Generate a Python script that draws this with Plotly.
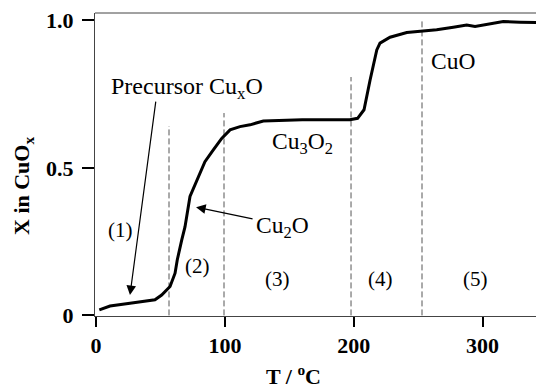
import plotly.graph_objects as go

# ---- data ----
temperature_C = [2.5, 10.8, 26.3, 45.7, 50.9, 57.4, 61.3, 63.0, 66.5, 69.0, 72.9, 76.8,
                 82.0, 84.5, 91.0, 97.5, 104.0, 111.7, 119.5, 129.8, 160.0, 197.0, 203.0,
                 206.2, 208.0, 212.7, 215.2, 217.9, 220.4, 228.2, 241.2, 252.8, 264.4,
                 277.3, 287.7, 294.2, 303.3, 316.1, 329.1, 341.5]
x_in_CuOx = [0.019, 0.032, 0.041, 0.053, 0.069, 0.098, 0.143, 0.188, 0.256, 0.300, 0.403, 0.442,
             0.499, 0.521, 0.561, 0.600, 0.629, 0.640, 0.646, 0.659, 0.663, 0.663, 0.668,
             0.685, 0.697, 0.798, 0.843, 0.900, 0.923, 0.943, 0.959, 0.964, 0.968,
             0.977, 0.984, 0.979, 0.987, 0.996, 0.994, 0.993]

boundary_T = [56.6, 99.3, 197.9, 253.0]
boundary_top = [0.642, 0.686, 0.808, 1.005]

region_labels = ["(1)", "(2)", "(3)", "(4)", "(5)"]
region_T = [18.6, 79.1, 140.8, 220.8, 294.6]
region_X = [0.29, 0.169, 0.125, 0.125, 0.125]

phase_labels = ["Cu<sub>3</sub>O<sub>2</sub>", "CuO"]
phase_T = [159.9, 277.1]
phase_X = [0.585, 0.863]

x_tickvals = [0, 100, 200, 300]
x_ticktext = ["<b>0</b>", "<b>100</b>", "<b>200</b>", "<b>300</b>"]
y_tickvals = [0, 0.5, 1.0]
y_ticktext = ["<b>0</b>", "<b>0.5</b>", "<b>1.0</b>"]

SERIF = "Liberation Serif"

fig = go.Figure()

# dashed region boundaries
bx, by = [], []
for t, top in zip(boundary_T, boundary_top):
    bx += [t, t, None]
    by += [0, top, None]
fig.add_trace(go.Scatter(x=bx, y=by, mode="lines",
                         line=dict(color="#555555", width=1, dash="6px,3px"),
                         hoverinfo="skip", showlegend=False))

# main curve
fig.add_trace(go.Scatter(x=temperature_C, y=x_in_CuOx, mode="lines",
                         line=dict(color="black", width=3),
                         showlegend=False))

annotations = []
for lab, t, v in zip(region_labels, region_T, region_X):
    annotations.append(dict(x=t, y=v, xref="x", yref="y", text=lab, showarrow=False,
                            xanchor="center", yanchor="middle",
                            font=dict(family=SERIF, size=21, color="black")))
for lab, t, v in zip(phase_labels, phase_T, phase_X):
    annotations.append(dict(x=t, y=v, xref="x", yref="y", text=lab, showarrow=False,
                            xanchor="center", yanchor="middle",
                            font=dict(family=SERIF, size=23.5, color="black")))

# Precursor label + arrow
annotations.append(dict(x=70.6, y=0.771, xref="x", yref="y",
                        text="Precursor Cu<sub>x</sub>O", showarrow=False,
                        xanchor="center", yanchor="middle",
                        font=dict(family=SERIF, size=24, color="black")))
annotations.append(dict(x=26.3, y=0.069, xref="x", yref="y", text="",
                        showarrow=True, ax=26, ay=-195, arrowhead=2, arrowsize=1.6,
                        arrowwidth=1.2, arrowcolor="black"))
# Cu2O label + arrow
annotations.append(dict(x=144.4, y=0.298, xref="x", yref="y",
                        text="Cu<sub>2</sub>O", showarrow=False,
                        xanchor="center", yanchor="middle",
                        font=dict(family=SERIF, size=23.5, color="black")))
annotations.append(dict(x=77.6, y=0.367, xref="x", yref="y", text="",
                        showarrow=True, ax=58, ay=12, arrowhead=2, arrowsize=1.6,
                        arrowwidth=1.2, arrowcolor="black"))

# axis titles (pixel positions converted to paper coords below)
annotations.append(dict(x=22.5, y=186.5, xref="paper", yref="paper", text="<b>X in CuO<sub>x</sub></b>",
                        showarrow=False, textangle=-90, xanchor="center", yanchor="middle",
                        font=dict(family=SERIF, size=22, color="black")))
annotations.append(dict(x=293, y=375, xref="paper", yref="paper", text="<b>T / <sup>o</sup>C</b>",
                        showarrow=False, xanchor="center", yanchor="middle",
                        font=dict(family=SERIF, size=22, color="black")))

L, R, T_, B = 95, 0, 13, 73
W, H = 536, 389
pw, ph = W - L - R, H - T_ - B
for a in annotations[-2:]:
    a["x"] = (a["x"] - L) / pw
    a["y"] = (H - B - a["y"]) / ph

tickfont = dict(family=SERIF, size=22, color="black")

fig.update_layout(
    width=W, height=H,
    font=dict(family=SERIF, color="black"),
    margin=dict(l=L, r=R, t=T_, b=B, pad=0, autoexpand=False),
    plot_bgcolor="white", paper_bgcolor="white",
    annotations=annotations,
    shapes=[dict(type="line", xref="paper", yref="paper", x0=0, x1=1, y0=1, y1=1,
                 line=dict(color="#444444", width=1))],
    xaxis=dict(range=[-0.85, 341.5], tickvals=x_tickvals, ticktext=x_ticktext,
               ticks="outside", ticklen=10,
               tickwidth=2, tickcolor="black", showline=True, linecolor="#444444", linewidth=1,
               showgrid=False, zeroline=False, automargin=False, tickfont=tickfont),
    yaxis=dict(range=[-0.002, 1.025], tickvals=y_tickvals, ticktext=y_ticktext,
               ticks="outside", ticklen=12, tickwidth=2, tickcolor="black",
               ticklabelstandoff=4,
               showline=True, linecolor="#444444", linewidth=1,
               showgrid=False, zeroline=False, automargin=False, tickfont=tickfont),
)

fig.write_html("out.html", config={"displayModeBar": False},
               post_script="document.body.style.margin='0';document.body.style.overflow='hidden';")
